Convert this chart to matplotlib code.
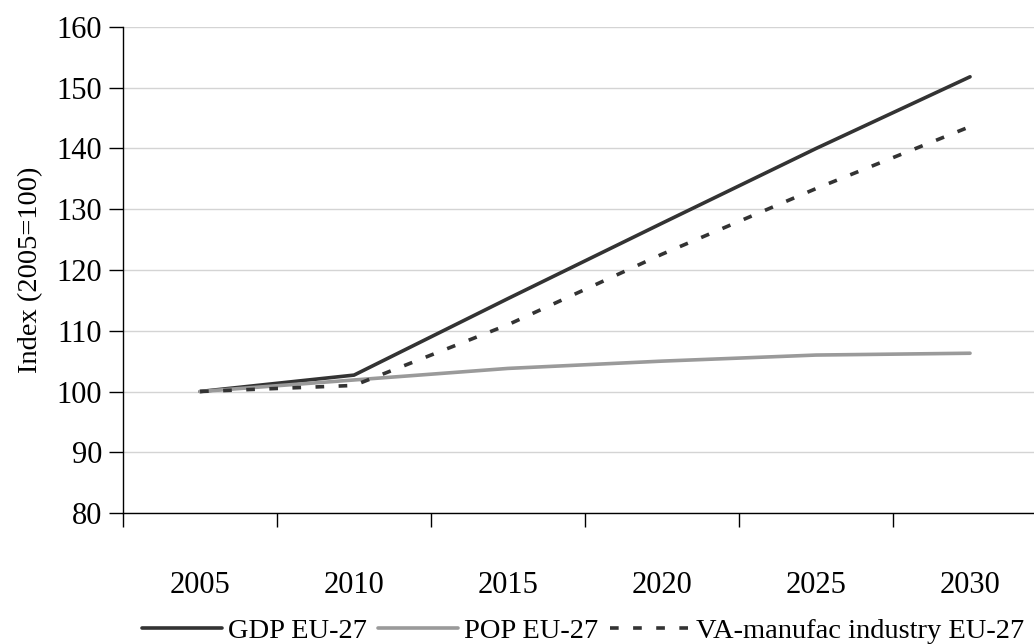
import numpy as np
import matplotlib
matplotlib.use("Agg")
import matplotlib.pyplot as plt

plt.rcParams['font.family'] = ['Liberation Serif', 'DejaVu Serif']

# Index values (2005 = 100)
years = ["2005", "2010", "2015", "2020", "2025", "2030"]
gdp = [100, 102.7, 115.3, 127.7, 140.0, 151.8]
pop = [100, 101.9, 103.8, 105.0, 106.0, 106.3]
va_manuf = [100, 101.0, 111.0, 122.6, 133.4, 143.6]

fig = plt.figure(figsize=(10.34, 6.44), dpi=100)
# axes runs past the right edge like the original
ax = fig.add_axes([0.119, 0.2034, 0.8936, 0.7547])

x = np.arange(len(years))
ax.plot(x, gdp, color='#333333', lw=2.6, solid_capstyle='round', label='GDP EU-27')
ax.plot(x, pop, color='#9a9a9a', lw=2.6, solid_capstyle='round', label='POP EU-27')
ax.plot(x, va_manuf, color='#333333', lw=2.6, dashes=(2.4, 4.0), label='VA-manufac industry EU-27')

ax.set_xlim(-0.5, len(years) - 0.5)
ax.set_ylim(80, 160)
ax.set_yticks(np.arange(80, 161, 10))
ax.yaxis.grid(True, color='#d4d4d4', lw=1)
ax.set_axisbelow(True)

# category axis: ticks between categories, labels centered
ax.set_xticks(np.arange(-0.5, len(years), 1.0))
ax.set_xticklabels([])
ax.set_xticks(x, minor=True)
ax.set_xticklabels(years, minor=True)
ax.tick_params(axis='x', which='major', direction='out', length=10, width=1)
ax.tick_params(axis='x', which='minor', length=0, pad=42, labelsize=22)
ax.tick_params(axis='y', direction='out', length=10, width=1, labelsize=22, pad=5)

for s in ['top', 'right']:
    ax.spines[s].set_visible(False)
for s in ['left', 'bottom']:
    ax.spines[s].set_linewidth(1)
    ax.spines[s].set_color('black')

ax.set_ylabel("Index (2005=100)", fontsize=20.5, labelpad=10)

fig.legend(loc='center left', bbox_to_anchor=(0.118, 0.02), ncol=3, frameon=False,
           fontsize=20.5, handlelength=2.8, handletextpad=0.22, columnspacing=0.4,
           borderpad=0.2)

fig.savefig("out.png", dpi=100)
